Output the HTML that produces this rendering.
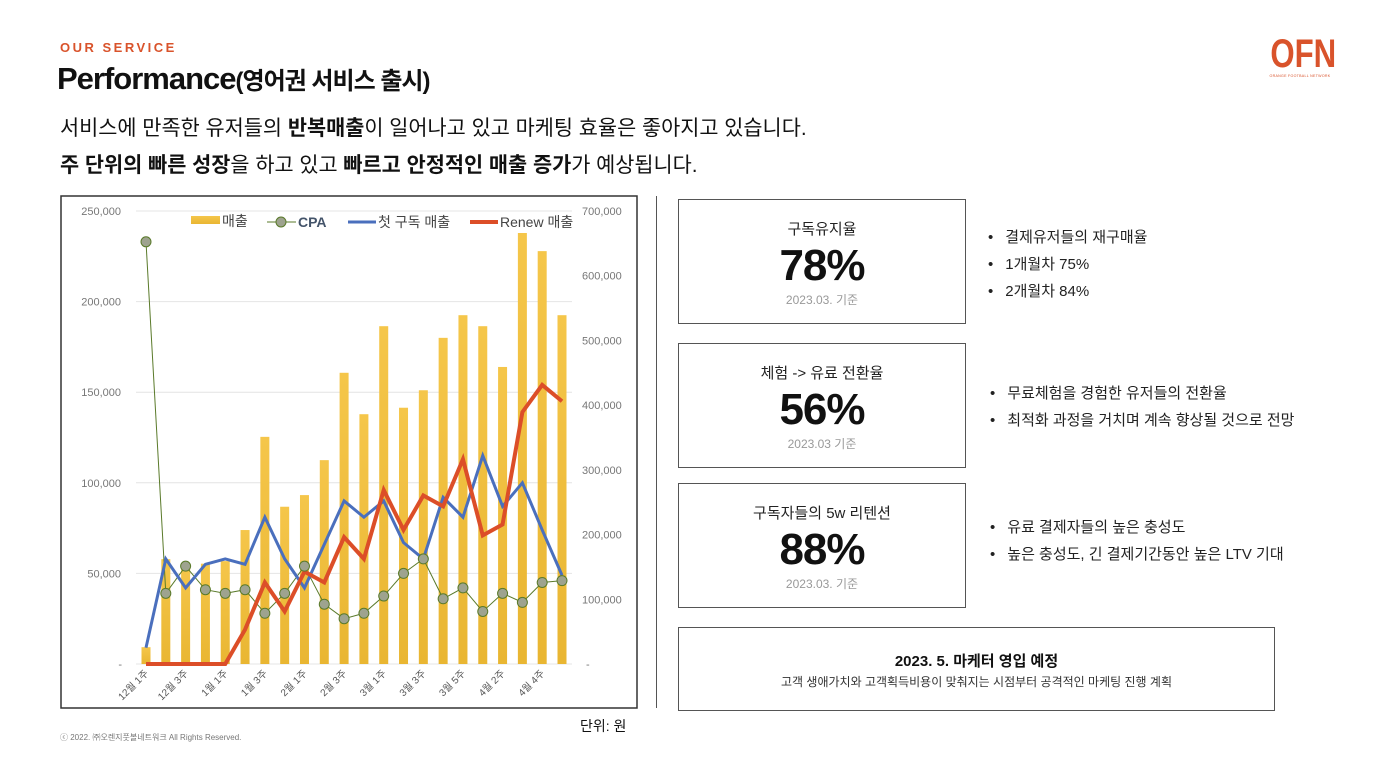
<!DOCTYPE html>
<html><head><meta charset="utf-8">
<style>
*{margin:0;padding:0;box-sizing:border-box}
body{width:1385px;height:774px;background:#fff;position:relative;overflow:hidden;font-family:"Liberation Sans","Noto Sans CJK KR",sans-serif;color:#111}
.abs{position:absolute}
.box{position:absolute;border:1px solid #555;background:#fff;text-align:center}
.box .t{font-size:15px;color:#222;margin-top:18px}
.box .big{font-size:44px;font-weight:bold;letter-spacing:-1px;line-height:50px;margin-top:2px}
.box .d{font-size:12px;color:#999}
ul{position:absolute;list-style:none;font-size:15px;color:#222}
ul li{line-height:27px}
ul li:before{content:"•";margin-right:12px}
</style></head><body>
<div class="abs" style="left:60px;top:40px;font-size:13px;font-weight:bold;color:#d9532b;letter-spacing:2.5px">OUR SERVICE</div>
<div class="abs" style="left:57px;top:61px;font-size:31px;font-weight:bold;letter-spacing:-1px">Performance<span style="font-size:24px">(영어권 서비스 출시)</span></div>
<div class="abs" style="left:60px;top:111px;font-size:20.8px">서비스에 만족한 유저들의 <b>반복매출</b>이 일어나고 있고 마케팅 효율은 좋아지고 있습니다.</div>
<div class="abs" style="left:60px;top:148px;font-size:20.8px"><b>주 단위의 빠른 성장</b>을 하고 있고 <b>빠르고 안정적인 매출 증가</b>가 예상됩니다.</div>
<div class="abs" style="left:1262px;top:35px;width:76px;text-align:center;color:#d9532b"><div style="font-size:40px;font-weight:bold;line-height:38px;transform:scaleX(0.78)">OFN</div><div style="font-size:4px;letter-spacing:0.3px;transform:scaleX(0.9)">ORANGE FOOTBALL NETWORK</div></div>

<svg class="abs" style="left:0;top:0" width="660" height="774">
<defs><linearGradient id="g" x1="0" y1="0" x2="0" y2="1"><stop offset="0" stop-color="#f5c64a"/><stop offset="1" stop-color="#e9b632"/></linearGradient></defs>
<rect x="61" y="196" width="576" height="512" fill="#fff" stroke="#333" stroke-width="1.5"/>
<g id="grid"></g><g id="bars"></g><g id="lines"></g><g id="labels"></g>
<g font-size="14" fill="#444">
<rect x="191" y="216" width="29" height="8" fill="url(#g)"/><text x="222" y="226">매출</text>
<line x1="267" y1="222" x2="296" y2="222" stroke="#5a7a2a"/><circle cx="281" cy="222" r="5" fill="#9ea38f" stroke="#5a7a2a"/><text x="298" y="227" font-weight="bold" fill="#44546a">CPA</text>
<line x1="348" y1="222" x2="376" y2="222" stroke="#4a6fbd" stroke-width="3"/><text x="378" y="227">첫 구독 매출</text>
<line x1="470" y1="222" x2="498" y2="222" stroke="#dc4e28" stroke-width="4"/><text x="500" y="227">Renew 매출</text>
</g>
</svg>
<div class="abs" style="left:580px;top:716px;font-size:14px">단위: 원</div>
<div class="abs" style="left:60px;top:732px;font-size:8px;color:#777">ⓒ 2022. ㈜오렌지풋볼네트워크 All Rights Reserved.</div>
<div class="abs" style="left:656px;top:196px;width:1px;height:512px;background:#555"></div>

<div class="box" style="left:678px;top:199px;width:288px;height:125px"><div class="t">구독유지율</div><div class="big">78%</div><div class="d">2023.03. 기준</div></div>
<ul style="left:988px;top:224px"><li>결제유저들의 재구매율</li><li>1개월차 75%</li><li>2개월차 84%</li></ul>
<div class="box" style="left:678px;top:343px;width:288px;height:125px"><div class="t">체험 -&gt; 유료 전환율</div><div class="big">56%</div><div class="d">2023.03 기준</div></div>
<ul style="left:990px;top:380px"><li>무료체험을 경험한 유저들의 전환율</li><li>최적화 과정을 거치며 계속 향상될 것으로 전망</li></ul>
<div class="box" style="left:678px;top:483px;width:288px;height:125px"><div class="t">구독자들의 5w 리텐션</div><div class="big">88%</div><div class="d">2023.03. 기준</div></div>
<ul style="left:990px;top:514px"><li>유료 결제자들의 높은 충성도</li><li>높은 충성도, 긴 결제기간동안 높은 LTV 기대</li></ul>
<div class="box" style="left:678px;top:627px;width:597px;height:84px"><div style="font-size:15px;font-weight:bold;margin-top:22px">2023. 5. 마케터 영입 예정</div><div style="font-size:12px;color:#333;margin-top:2px">고객 생애가치와 고객획득비용이 맞춰지는 시점부터 공격적인 마케팅 진행 계획</div></div>

<script>
const categories=["12월 1주","12월 2주","12월 3주","12월 4주","1월 1주","1월 2주","1월 3주","1월 4주","2월 1주","2월 2주","2월 3주","2월 4주","3월 1주","3월 2주","3월 3주","3월 4주","3월 5주","4월 1주","4월 2주","4월 3주","4월 4주","4월 5주"];
const revenue=[26000,162000,150000,155000,159000,207000,351000,243000,261000,315000,450000,386000,522000,396000,423000,504000,539000,522000,459000,666000,638000,539000];
const cpa=[233000,39000,54000,41000,39000,41000,28000,39000,54000,33000,25000,28000,37500,50000,58000,36000,42000,29000,39000,34000,45000,46000];
const firstSub=[9000,58000,42000,55000,58000,55000,81000,58000,42000,66000,90000,81000,90000,67000,58000,92000,81000,115000,87000,100000,74000,49000];
const renew=[0,0,0,0,0,19000,45000,29000,51000,45000,70000,58000,96000,74000,93000,87000,113000,71000,77000,139000,154000,145000];
const leftTicks=[0,50000,100000,150000,200000,250000];
const rightTicks=[0,100000,200000,300000,400000,500000,600000,700000];
const NS="http://www.w3.org/2000/svg";
const x0=146,dx=(562-146)/21,yBase=664,yTop=211;
const xs=i=>x0+i*dx;
const yL=v=>yBase-v/250000*(yBase-yTop);
const yR=v=>yBase-v/700000*(yBase-yTop);
const fmt=v=>v===0?"-":v.toLocaleString("en-US");
function mk(tag,attrs,parent){const e=document.createElementNS(NS,tag);for(const k in attrs)e.setAttribute(k,attrs[k]);document.getElementById(parent).appendChild(e);return e;}
leftTicks.forEach(v=>{
 const l=mk("line",{x1:136,x2:572,y1:yL(v),y2:yL(v),stroke:"#e4e4e4","stroke-width":1},"grid");
 
 
 const t=mk("text",{x:v===0?122:121,y:yL(v)+4,"text-anchor":"end","font-size":11,fill:"#777"},"labels");t.textContent=fmt(v);
 
 
});
rightTicks.forEach(v=>{
 const t=mk("text",{x:v===0?586:582,y:yR(v)+4,"font-size":11,fill:"#777"},"labels");t.textContent=fmt(v);
 
 
});
revenue.forEach((v,i)=>{
 const r=mk("rect",{x:xs(i)-4.5,y:yR(v),width:9,height:yBase-yR(v),fill:"url(#g)"},"bars");
 
 
});
categories.forEach((c,i)=>{
 if(i%2)return;
 const t=mk("text",{x:xs(i)+3,y:674,"text-anchor":"end","font-size":10,fill:"#555",transform:`rotate(-45 ${xs(i)+3} 674)`},"labels");t.textContent=c;
 
 
});
function line(arr,color,w,name){
 const p=mk("polyline",{points:arr.map((v,i)=>xs(i)+","+yL(v)).join(" "),fill:"none",stroke:color,"stroke-width":w,"stroke-linejoin":"miter"},"lines");
 
 
}
line(cpa,"#5a7a2a",1,"cpa-line");
line(firstSub,"#4a6fbd",3,"first-sub-line");
line(renew,"#dc4e28",4,"renew-line");
cpa.forEach((v,i)=>{
 const c=mk("circle",{cx:xs(i),cy:yL(v),r:5,fill:"#9ea38f",stroke:"#5a7a2a","stroke-width":1},"lines");
 
 
});
</script>
</body></html>
